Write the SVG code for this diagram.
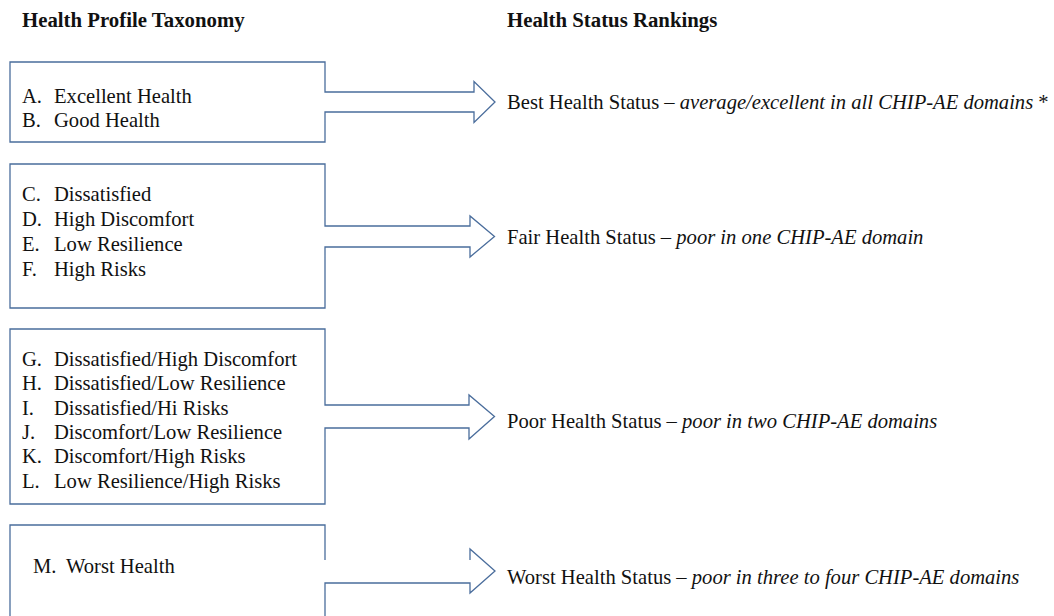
<svg xmlns="http://www.w3.org/2000/svg" width="1054" height="616" viewBox="0 0 1054 616">
<style>
.shape{fill:none;stroke:#4a6d9c;stroke-width:1.3;stroke-linejoin:miter}
.t{font-family:"Liberation Serif","Times New Roman",serif;font-size:20.6px;fill:#111}
.h{font-family:"Liberation Serif","Times New Roman",serif;font-size:20.8px;font-weight:bold;fill:#111}
.i{font-style:italic}
</style>
<rect width="1054" height="616" fill="#fff"/>
<g id="headers">
<text class="h" x="22" y="26.5">Health Profile Taxonomy</text>
<text class="h" x="507" y="26.5">Health Status Rankings</text>
</g>
<g id="connectors">
<path class="shape" d="M325,92 V62 H10 V142 H325 V112 H474 V122.5 L495,102 L474,81.5 V92 Z"/>
<path class="shape" d="M325,226 V164 H10 V308 H325 V247 H470 V257 L494.5,236.5 L470,216 V226 Z"/>
<path class="shape" d="M325,405 V329 H10 V504 H325 V428 H469 V439 L494.5,416.5 L469,395 V405 Z"/>
<path class="shape" d="M325,560 V525 H10 V620 M325,620 V583 H470 V593 L495,571 L470,549 V560"/>
</g>
<g id="node-best">
<text class="t" x="22" y="103">A.</text><text class="t" x="54" y="103">Excellent Health</text>
<text class="t" x="22" y="127">B.</text><text class="t" x="54" y="127">Good Health</text>
</g>
<g id="node-fair">
<text class="t" x="22" y="200.5">C.</text><text class="t" x="54" y="200.5">Dissatisfied</text>
<text class="t" x="22" y="225.5">D.</text><text class="t" x="54" y="225.5">High Discomfort</text>
<text class="t" x="22" y="250.5">E.</text><text class="t" x="54" y="250.5">Low Resilience</text>
<text class="t" x="22" y="275.5">F.</text><text class="t" x="54" y="275.5">High Risks</text>
</g>
<g id="node-poor">
<text class="t" x="22" y="365.5">G.</text><text class="t" x="54" y="365.5">Dissatisfied/High Discomfort</text>
<text class="t" x="22" y="390">H.</text><text class="t" x="54" y="390">Dissatisfied/Low Resilience</text>
<text class="t" x="22" y="414.5">I.</text><text class="t" x="54" y="414.5">Dissatisfied/Hi Risks</text>
<text class="t" x="22" y="438.5">J.</text><text class="t" x="54" y="438.5">Discomfort/Low Resilience</text>
<text class="t" x="22" y="463">K.</text><text class="t" x="54" y="463">Discomfort/High Risks</text>
<text class="t" x="22" y="487.5">L.</text><text class="t" x="54" y="487.5">Low Resilience/High Risks</text>
</g>
<g id="node-worst">
<text class="t" x="33" y="572.5">M.</text><text class="t" x="66" y="572.5">Worst Health</text>
</g>
<g id="rankings">
<text class="t" x="507" y="108.5">Best Health Status – <tspan class="i">average/excellent in all CHIP-AE domains</tspan> *</text>
<text class="t" x="507" y="243.5">Fair Health Status – <tspan class="i">poor in one CHIP-AE domain</tspan></text>
<text class="t" x="507" y="428">Poor Health Status – <tspan class="i">poor in two CHIP-AE domains</tspan></text>
<text class="t" x="507" y="583.5">Worst Health Status – <tspan class="i">poor in three to four CHIP-AE domains</tspan></text>
</g>
</svg>
